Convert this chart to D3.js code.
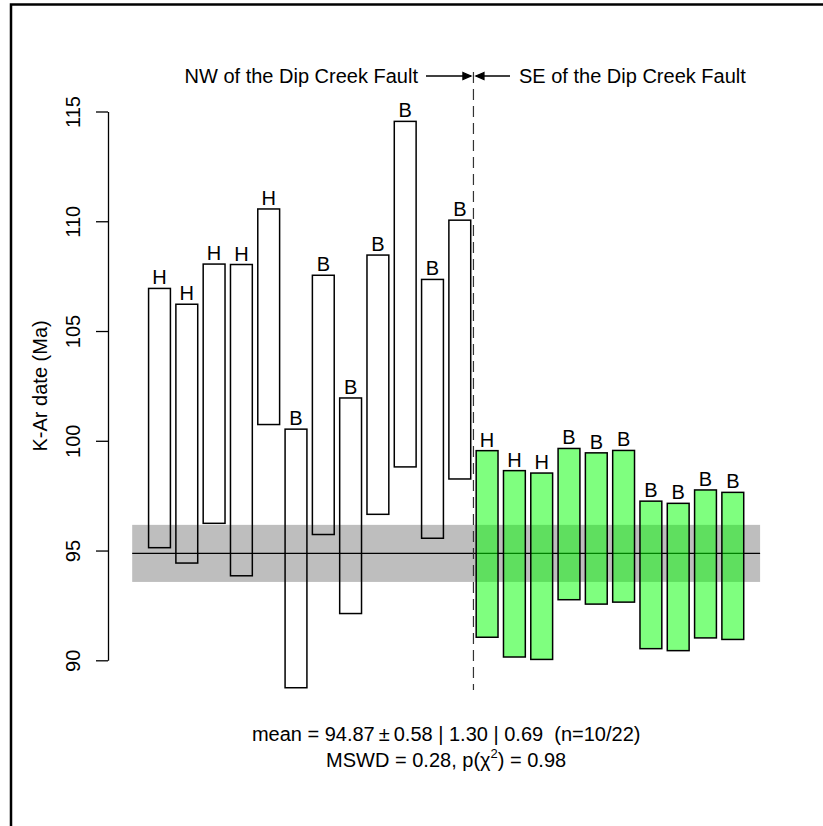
<!DOCTYPE html>
<html>
<head>
<meta charset="utf-8">
<script src="https://cdn.jsdelivr.net/npm/d3@7"></script>
<style>
  body { margin: 0; background: #fff; }
  text { font-family: "Liberation Sans", Arial, sans-serif; }
</style>
</head>
<body>
<svg id="chart" width="823" height="826"></svg>
<script>
// K-Ar dates: upper and lower limits of each error bar (Ma)
const upper = [106.94, 106.22, 108.05, 108.03, 110.56, 100.53, 107.54, 101.95, 108.46, 114.55, 107.35, 110.05,
               99.55, 98.64, 98.53, 99.65, 99.45, 99.56, 97.25, 97.15, 97.76, 97.65];
const lower = [95.13, 94.43, 96.24, 93.85, 100.74, 88.75, 95.73, 92.13, 96.65, 98.81, 95.56, 98.26,
               91.05, 90.15, 90.04, 92.76, 92.56, 92.65, 90.53, 90.44, 91.02, 90.95];
const sampleType = ["H", "H", "H", "H", "H", "B", "B", "B", "B", "B", "B", "B",
                    "H", "H", "H", "B", "B", "B", "B", "B", "B", "B"];
const side = ["NW", "NW", "NW", "NW", "NW", "NW", "NW", "NW", "NW", "NW", "NW", "NW",
              "SE", "SE", "SE", "SE", "SE", "SE", "SE", "SE", "SE", "SE"];
const yTicks = [90, 95, 100, 105, 110, 115];
const mean = 94.87, bandHalf = 1.30;

const svg = d3.select("#chart");
const fs = 20;

const x = d3.scaleLinear().domain([1, 22]).range([159.5, 732.8]);
const y = d3.scaleLinear().domain([90, 115]).range([660.3, 111.5]);
const barHalf = 0.4;

// outer frame (only top and left edges are visible)
svg.append("path")
    .attr("d", "M11,826V4.5H823")
    .attr("fill", "none")
    .attr("stroke", "#000")
    .attr("stroke-width", 2.5);

// grey band for the weighted mean
svg.append("rect")
    .attr("x", x(0))
    .attr("y", y(mean + bandHalf))
    .attr("width", x(23) - x(0))
    .attr("height", y(mean - bandHalf) - y(mean + bandHalf))
    .attr("fill", "#bebebe");

svg.append("line")
    .attr("x1", x(0)).attr("x2", x(23))
    .attr("y1", y(mean)).attr("y2", y(mean))
    .attr("stroke", "#000")
    .attr("stroke-width", 1.3);

// bars
const idx = d3.range(upper.length);
svg.append("g").selectAll("rect")
    .data(idx)
    .join("rect")
    .attr("x", i => x(i + 1 - barHalf))
    .attr("y", i => y(upper[i]))
    .attr("width", x(1 + barHalf) - x(1 - barHalf))
    .attr("height", i => y(lower[i]) - y(upper[i]))
    .attr("fill", i => side[i] === "SE" ? "rgba(0,255,0,0.5)" : "none")
    .attr("stroke", "#000")
    .attr("stroke-width", 1.5);

// H / B labels above bars
svg.append("g").selectAll("text")
    .data(idx)
    .join("text")
    .attr("x", i => x(i + 1))
    .attr("y", i => y(upper[i]) - 4)
    .attr("text-anchor", "middle")
    .attr("font-size", fs)
    .text(i => sampleType[i]);

// fault line
const faultX = x(12.5);
svg.append("line")
    .attr("x1", faultX).attr("x2", faultX)
    .attr("y1", 72).attr("y2", 690)
    .attr("stroke", "#333")
    .attr("stroke-width", 1.2)
    .attr("stroke-dasharray", "11,6");

// arrows and side labels
const arrowY = 76;
function arrow(x1, x2) {
    const g = svg.append("g").attr("stroke", "#000").attr("stroke-width", 1.3).attr("fill", "none");
    g.append("line").attr("x1", x1).attr("x2", x2).attr("y1", arrowY).attr("y2", arrowY);
    const d = x2 > x1 ? -1 : 1;
    g.append("path")
        .attr("d", `M${x2 + d * 8},${arrowY - 3.5}L${x2},${arrowY}L${x2 + d * 8},${arrowY + 3.5}Z`)
        .attr("fill", "#000");
}
arrow(426, faultX - 2.5);
arrow(510, faultX + 2.5);

svg.append("text")
    .attr("x", 418).attr("y", arrowY + 7)
    .attr("text-anchor", "end")
    .attr("font-size", fs)
    .text("NW of the Dip Creek Fault");
svg.append("text")
    .attr("x", 519).attr("y", arrowY + 7)
    .attr("text-anchor", "start")
    .attr("font-size", fs)
    .text("SE of the Dip Creek Fault");

// y axis
const yAxis = svg.append("g")
    .attr("transform", "translate(108,0)")
    .call(d3.axisLeft(y).tickValues(yTicks).tickSize(12).tickSizeOuter(0).tickFormat(d3.format("d")));
yAxis.select(".domain").attr("stroke", "#000").attr("stroke-width", 1.3);
yAxis.selectAll(".tick line").attr("stroke", "#000").attr("stroke-width", 1.3);
yAxis.selectAll(".tick text")
    .attr("transform", "rotate(-90)")
    .attr("x", 0)
    .attr("y", -35)
    .attr("dy", "0.35em")
    .attr("text-anchor", "middle")
    .attr("font-size", fs)
    .attr("font-family", "Liberation Sans, Arial, sans-serif")
    .attr("fill", "#000");

svg.append("text")
    .attr("transform", `translate(40,${(y(90) + y(115)) / 2}) rotate(-90)`)
    .attr("text-anchor", "middle")
    .attr("dy", "0.35em")
    .attr("font-size", fs)
    .text("K-Ar date (Ma)");

// summary text
const cx = (x(0) + x(23)) / 2;
svg.append("text")
    .attr("x", cx).attr("y", 741)
    .attr("text-anchor", "middle")
    .attr("font-size", fs)
    .text("mean = 94.87\u2009\u00b1\u20090.58 | 1.30 | 0.69 \u00a0(n=10/22)");

const t2 = svg.append("text")
    .attr("x", cx).attr("y", 767)
    .attr("text-anchor", "middle")
    .attr("font-size", fs);
t2.append("tspan").text("MSWD = 0.28, p(\u03c7");
t2.append("tspan").attr("font-size", 13).attr("dy", -9).text("2");
t2.append("tspan").attr("dy", 9).text(") = 0.98");
</script>
</body>
</html>
